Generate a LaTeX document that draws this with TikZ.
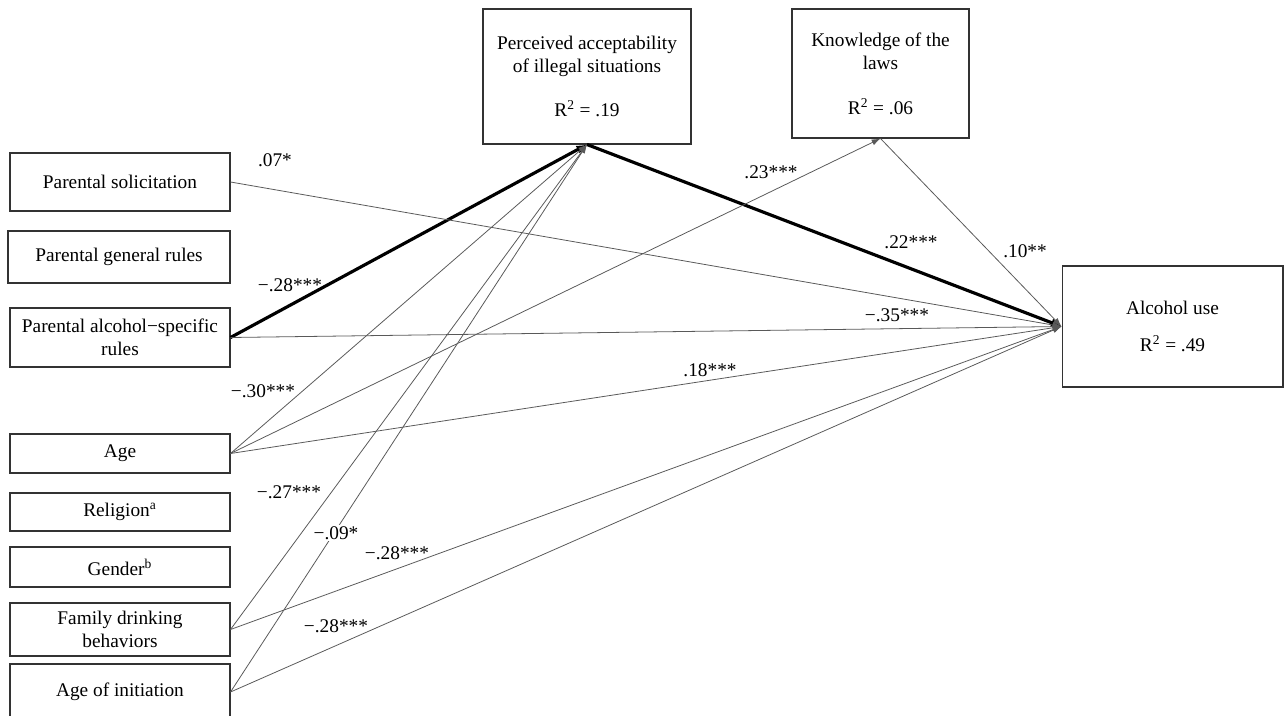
\documentclass[tikz,border=0pt]{standalone}
\usepackage{fontspec}
\setmainfont{Liberation Serif}
\usetikzlibrary{arrows.meta}

\tikzset{
  box/.style={draw=black!80, line width=0.6pt, align=center, inner sep=2pt},
  eff/.style={draw=black!65, line width=0.45pt, -{Latex[length=5pt,width=3.5pt]}},
  maineff/.style={draw=black, line width=1.8pt, -{Latex[length=6pt,width=5pt]}},
  coef/.style={inner sep=1pt},
}

\begin{document}
\begin{tikzpicture}[x=0.02cm, y=-0.02cm, every node/.style={font=\fontsize{11}{13.3}\selectfont}]
        \useasboundingbox (0,0) rectangle (1285,716);

        % predictors
        \draw (120,182) node [box, minimum width=4.4cm, minimum height=1.16cm] (solic) {Parental solicitation};
        \draw (119,257) node [box, minimum width=4.44cm, minimum height=1.04cm] (genrules) {Parental general rules};
        \draw (120,337.5) node [box, minimum width=4.4cm, minimum height=1.18cm] (alcrules) {Parental alcohol−specific\\rules};
        \draw (120,453.5) node [box, minimum width=4.4cm, minimum height=0.78cm] (age) {Age};
        \draw (120,512) node [box, minimum width=4.4cm, minimum height=0.76cm] (relig) {Religion\textsuperscript{a}};
        \draw (120,567) node [box, minimum width=4.4cm, minimum height=0.8cm] (gender) {Gender\textsuperscript{b}};
        \draw (120,629.5) node [box, minimum width=4.4cm, minimum height=1.06cm] (family) {Family drinking\\behaviors};
        \draw (120,692) node [box, minimum width=4.4cm, minimum height=1.12cm] (init) {Age of initiation};

        % mediators and outcome
        \draw (587,76.5) node [box, minimum width=4.16cm, minimum height=2.7cm] (perc) {Perceived acceptability\\of illegal situations\\[12pt]R\textsuperscript{2} = .19};
        \draw (880.5,73.5) node [box, minimum width=3.54cm, minimum height=2.58cm] (know) {Knowledge of the\\laws\\[12pt]R\textsuperscript{2} = .06};
        \draw (1172.5,326.5) node [box, minimum width=4.42cm, minimum height=2.42cm] (alc) {Alcohol use\\[8pt]R\textsuperscript{2} = .49};

        % paths
        \draw[maineff] (alcrules.east) -- (perc.south);
        \draw[maineff] (perc.south) -- (alc.west);
        \draw[eff] (solic.east) -- (alc.west);
        \draw[eff] (alcrules.east) -- (alc.west);
        \draw[eff] (age.east) -- (perc.south);
        \draw[eff] (age.east) -- (know.south);
        \draw[eff] (age.east) -- (alc.west);
        \draw[eff] (family.east) -- (perc.south);
        \draw[eff] (family.east) -- (alc.west);
        \draw[eff] (init.east) -- (perc.south);
        \draw[eff] (init.east) -- (alc.west);
        \draw[eff] (know.south) -- (alc.west);

        % coefficients
        \draw (275,160) node [coef] (c1) {.07*};
        \draw (290,285) node [coef] (c2) {−.28***};
        \draw (263,391) node [coef] (c3) {−.30***};
        \draw (289,492) node [coef] (c4) {−.27***};
        \draw (336,533) node [coef, fill=white] (c5) {−.09*};
        \draw (397,553) node [coef] (c6) {−.28***};
        \draw (336,626) node [coef] (c7) {−.28***};
        \draw (771,172) node [coef] (c8) {.23***};
        \draw (911,242) node [coef] (c9) {.22***};
        \draw (1025,251) node [coef] (c10) {.10**};
        \draw (897,315) node [coef] (c11) {−.35***};
        \draw (710,370) node [coef] (c12) {.18***};
\end{tikzpicture}
\end{document}
